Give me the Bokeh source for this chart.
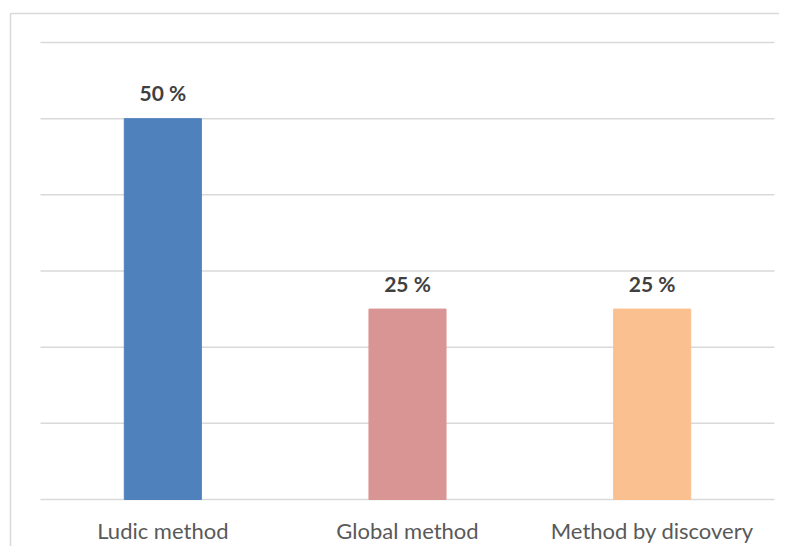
from bokeh.plotting import figure
from bokeh.models import Range1d, FixedTicker, ColumnDataSource
from bokeh.core.properties import value
from bokeh.embed import file_html
from bokeh.resources import INLINE

categories = ["Ludic method", "Global method", "Method by discovery"]
values = [50, 25, 25]
labels = ["50 %", "25 %", "25 %"]
colors = ["#4F81BD", "#D99594", "#FAC090"]
grid_ticks = [0, 10, 20, 30, 40, 50, 60]

# layout (pixels)
W, H = 779, 546
border_left, border_top = 10, 13
plot_left, plot_right = 40, 774
plot_top, plot_bottom = 42, 499
y_max = 60

px_per_cat = (plot_right - plot_left) / len(categories)
px_per_unit = (plot_bottom - plot_top) / y_max

x_start = -(plot_left - border_left) / px_per_cat
x_end = (W - plot_left) / px_per_cat
y_start = -(H - plot_bottom) / px_per_unit
y_end = (plot_bottom - border_top) / px_per_unit

xs = [i + 0.5 for i in range(len(categories))]
src = ColumnDataSource(dict(x=xs, cat=categories, val=values, lab=labels, col=colors,
                            zero=[0] * len(categories)))
gsrc = ColumnDataSource(dict(y=grid_ticks, x0=[0] * len(grid_ticks),
                             x1=[len(categories)] * len(grid_ticks)))

p = figure(x_range=Range1d(x_start, x_end), y_range=Range1d(y_start, y_end),
           width=W, height=H, output_backend="svg", toolbar_location=None,
           x_axis_location="above",
           min_border_left=border_left, min_border_right=0,
           min_border_top=border_top, min_border_bottom=0)
p.outline_line_color = None
p.background_fill_color = "white"
p.border_fill_color = "white"
p.grid.visible = False

for ax in (p.xaxis[0], p.yaxis[0]):
    ax.ticker = FixedTicker(ticks=[])
    ax.axis_line_color = "#D9D9D9"
    ax.axis_line_width = 1.5
    ax.major_tick_line_color = None
    ax.minor_tick_line_color = None
    ax.major_tick_out = 0
    ax.major_tick_in = 0
    ax.minor_tick_out = 0
    ax.major_label_standoff = 0
    ax.major_label_text_font_size = "0px"

p.segment(x0="x0", x1="x1", y0="y", y1="y", source=gsrc,
          line_color="#D9D9D9", line_width=1.5)

p.vbar(x="x", top="val", width=0.315, color="col", source=src)

p.text(x="x", y="val", text="lab", source=src, text_align="center",
       text_baseline="alphabetic", y_offset=-26, text_font=value("Lato"),
       text_font_style="bold", text_font_size="21px", text_color="#404040")

p.text(x="x", y="zero", text="cat", source=src, text_align="center",
       text_baseline="alphabetic", y_offset=31, text_font=value("Lato"),
       text_font_size="22px", text_color="#595959")

open("out.html", "w").write(file_html(p, INLINE))
